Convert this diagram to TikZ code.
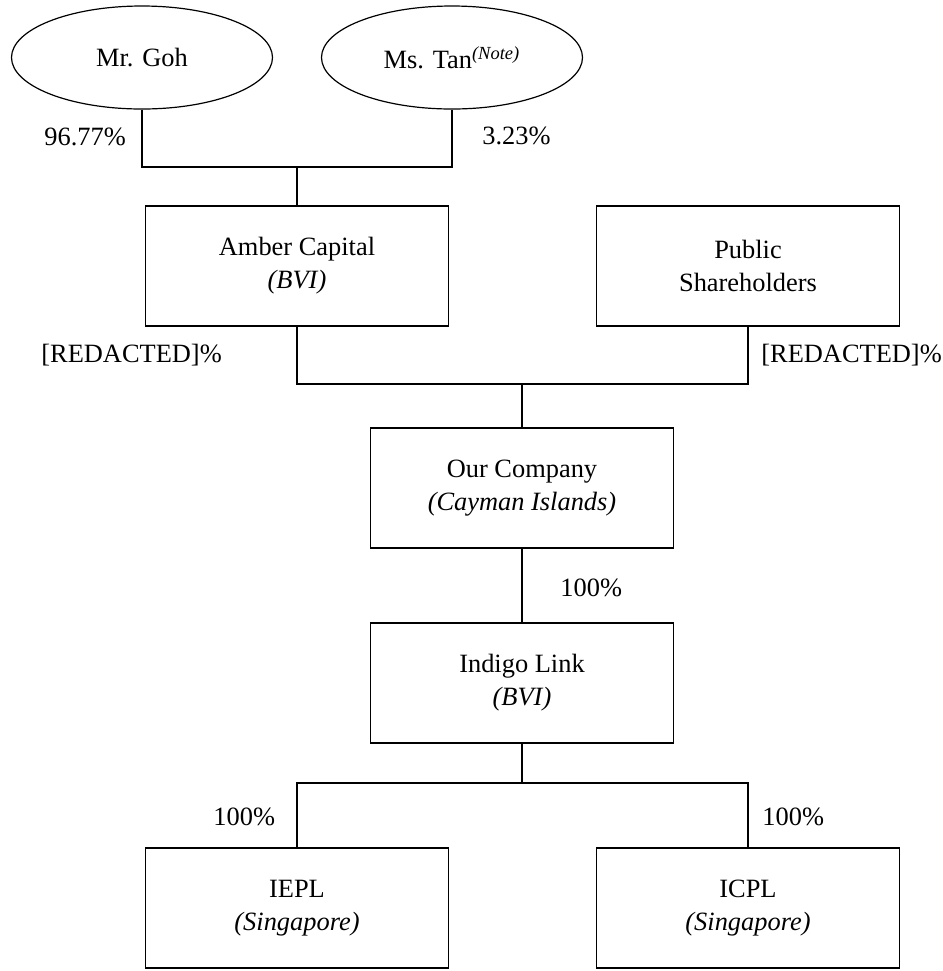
\documentclass[tikz,border=0pt]{standalone}
\usepackage{fontspec}
\setmainfont{Liberation Serif}
\usetikzlibrary{shapes.geometric}

\begin{document}
\begin{tikzpicture}[x=0.5pt, y=-0.5pt,
    every node/.style={font=\fontsize{13.2}{16.5}\selectfont},
    entity/.style={draw, line width=0.6pt, minimum width=151.5pt, minimum height=60pt, align=center, inner sep=0pt},
    person/.style={draw, ellipse, line width=0.6pt, minimum width=130.5pt, minimum height=51.5pt, inner sep=0pt},
    share/.style={anchor=west, inner sep=0pt},
    link/.style={line width=0.6pt}]
\useasboundingbox (0, 0) rectangle (943, 971);

\node[person] (P_goh) at (142, 57.5) {Mr. Goh};
\node[person] (P_tan) at (452, 57.5) {Ms. Tan\textsuperscript{\textit{(Note)}}};

\node[entity] (B_amber) at (297, 266) {Amber Capital\\\textit{(BVI)}};
\node[entity] (B_public) at (748, 266) {Public\\Shareholders};
\node[entity] (B_ours) at (522, 488) {Our Company\\\textit{(Cayman Islands)}};
\node[entity] (B_indigo) at (522, 683) {Indigo Link\\\textit{(BVI)}};
\node[entity] (B_iepl) at (297, 908) {IEPL\\\textit{(Singapore)}};
\node[entity] (B_icpl) at (748, 908) {ICPL\\\textit{(Singapore)}};

\coordinate (J_top) at (297, 167);
\coordinate (J_mid) at (522, 384);
\coordinate (J_low) at (522, 783);

\draw[link] (P_goh.south) |- (J_top) -| (P_tan.south);
\draw[link] (J_top) -- (B_amber.north);
\draw[link] (B_amber.south) |- (J_mid) -| (B_public.south);
\draw[link] (J_mid) -- (B_ours.north);
\draw[link] (B_ours.south) -- (B_indigo.north);
\draw[link] (B_indigo.south) -- (J_low);
\draw[link] (B_iepl.north) |- (J_low) -| (B_icpl.north);

\node[share] (S_goh) at (44, 137) {96.77\%};
\node[share] (S_tan) at (482, 136) {3.23\%};
\node[share] (S_amber) at (41, 355) {[REDACTED]\%};
\node[share] (S_public) at (761, 355) {[REDACTED]\%};
\node[share] (S_ours) at (560, 588) {100\%};
\node[share] (S_iepl) at (213, 817) {100\%};
\node[share] (S_icpl) at (762, 817) {100\%};
\end{tikzpicture}
\end{document}
